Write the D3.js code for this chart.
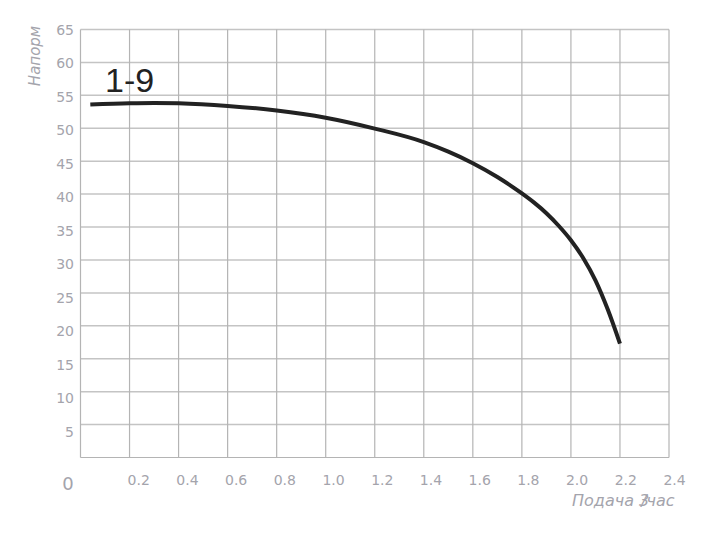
<!DOCTYPE html>
<html>
<head>
<meta charset="utf-8">
<script src="https://cdn.jsdelivr.net/npm/d3@7"></script>
<style>
  html, body { margin: 0; padding: 0; background: #fff; }
  svg { display: block; }
</style>
</head>
<body>
<svg id="chart" width="722" height="533"></svg>
<script>
// ---- data ----
const flow = [0.04, 0.2, 0.3, 0.4, 0.6, 0.8, 1.0, 1.2, 1.4, 1.5, 1.6, 1.7, 1.8, 1.85, 1.9, 1.95, 2.0, 2.05, 2.1, 2.15, 2.2];
const head = [53.6, 53.8, 53.85, 53.8, 53.4, 52.7, 51.6, 49.95, 47.9, 46.45, 44.7, 42.6, 40.1, 38.7, 37.1, 35.2, 33.0, 30.3, 26.9, 22.5, 17.3];
const xTicks = [0.2, 0.4, 0.6, 0.8, 1.0, 1.2, 1.4, 1.6, 1.8, 2.0, 2.2, 2.4];
const yTicks = [5, 10, 15, 20, 25, 30, 35, 40, 45, 50, 55, 60, 65];
const seriesName = "1-9";
const xTitle = "Подача 3";
const xTitleTail = "/час";
const yTitle = "Напорм";

// ---- scales ----
const svg = d3.select("#chart");
const x = d3.scaleLinear().domain([0, 2.4]).range([80.5, 669]);
const y = d3.scaleLinear().domain([0, 65]).range([457.5, 29.5]);
// label placement scales (labels are slightly offset from grid lines in the reference)
const xLab = d3.scaleLinear().domain([0, 2.4]).range([89.5, 674]);
const yLab = d3.scaleLinear().domain([0, 65]).range([465.5, 30]);

const gridCol = "#b4b4b4";
const textCol = "#a4a4ac";

// horizontal grid
svg.append("g").selectAll("line").data(yTicks).join("line")
  .attr("x1", x(0)).attr("x2", x(2.4))
  .attr("y1", d => y(d)).attr("y2", d => y(d))
  .attr("stroke", "#c4c4c4").attr("stroke-width", 1.5);

// vertical grid
svg.append("g").selectAll("line").data(xTicks).join("line")
  .attr("y1", y(0)).attr("y2", y(65))
  .attr("x1", d => x(d)).attr("x2", d => x(d))
  .attr("stroke", gridCol).attr("stroke-width", 1.2);

// axes lines (left & bottom)
svg.append("line").attr("x1", x(0)).attr("x2", x(0)).attr("y1", y(0)).attr("y2", y(65))
  .attr("stroke", gridCol).attr("stroke-width", 1.2);
svg.append("line").attr("x1", x(0)).attr("x2", x(2.4)).attr("y1", y(0)).attr("y2", y(0))
  .attr("stroke", gridCol).attr("stroke-width", 1.2);

// y tick labels
const yAxis = d3.axisLeft(yLab).tickValues(yTicks).tickSize(0).tickPadding(0).tickFormat(d3.format("d"));
const gy = svg.append("g").attr("transform", "translate(74,0)").call(yAxis);
gy.select(".domain").remove();
gy.selectAll("text").attr("fill", textCol).style("font-family", "DejaVu Sans").style("font-size", "14px");

// x tick labels
const xAxis = d3.axisBottom(xLab).tickValues(xTicks).tickSize(0).tickPadding(0).tickFormat(d3.format(".1f"));
const gx = svg.append("g").attr("transform", "translate(0,475)").call(xAxis);
gx.select(".domain").remove();
gx.selectAll("text").attr("fill", textCol).style("font-family", "DejaVu Sans").style("font-size", "14px");

// origin label
svg.append("text").attr("x", 68).attr("y", 490).attr("text-anchor", "middle")
  .attr("fill", textCol).style("font-family", "DejaVu Sans").style("font-size", "18px").text("0");

// axis titles
svg.append("text")
  .attr("transform", "translate(40,56) rotate(-90)")
  .attr("text-anchor", "middle")
  .attr("fill", textCol).style("font-family", "DejaVu Sans").style("font-style", "italic").style("font-size", "15px")
  .text(yTitle);

const xt = svg.append("text").attr("x", 572).attr("y", 506)
  .attr("fill", textCol).style("font-family", "DejaVu Sans").style("font-style", "italic").style("font-size", "16px");
xt.append("tspan").text(xTitle);
xt.append("tspan").attr("dx", -8).text(xTitleTail);

// curve
const line = d3.line().x((d, i) => x(flow[i])).y(d => y(d)).curve(d3.curveMonotoneX);
svg.append("path").datum(head).attr("d", line)
  .attr("fill", "none").attr("stroke", "#222").attr("stroke-width", 4);

// series label
svg.append("text").attr("x", 105).attr("y", 92)
  .attr("fill", "#222").style("font-family", "Liberation Sans").style("font-size", "34px")
  .text(seriesName);
</script>
</body>
</html>
